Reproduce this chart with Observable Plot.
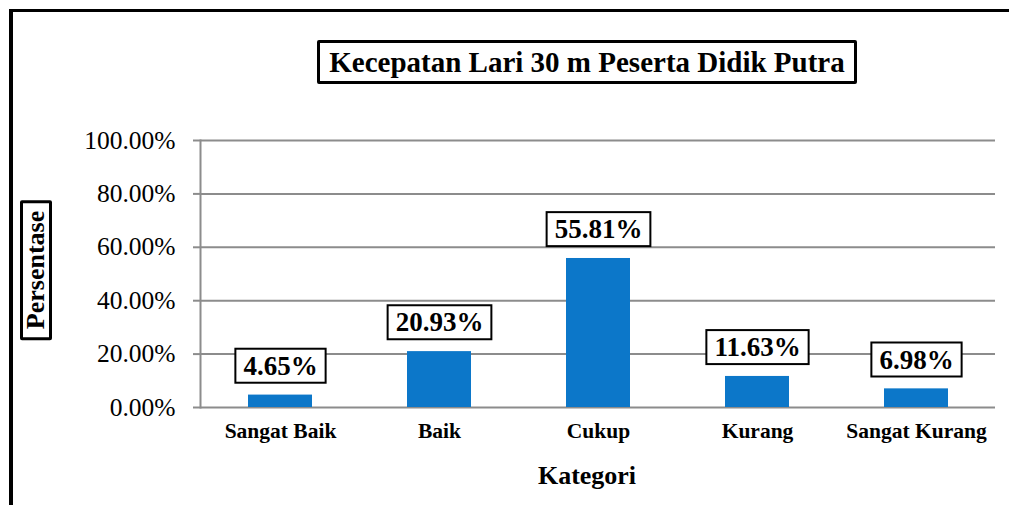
<!DOCTYPE html>
<html>
<head>
<meta charset="utf-8">
<script src="https://cdn.jsdelivr.net/npm/d3@7"></script>
<script src="https://cdn.jsdelivr.net/npm/@observablehq/plot@0.6"></script>
<style>
  html, body { margin: 0; padding: 0; background: #fff; }
  #wrap { position: relative; width: 1009px; height: 505px; overflow: hidden; font-family: "Liberation Serif", "Times New Roman", serif; }
  #border { position: absolute; left: 9px; top: 9px; width: 1100px; height: 600px; border-left: 4px solid #000; border-top: 3px solid #000; box-sizing: border-box; }
  #title { position: absolute; left: 317px; top: 40px; width: 540px; height: 44px; box-sizing: border-box; border: 3px solid #000; border-radius: 2px; font-weight: bold; font-size: 29px; text-align: center; line-height: 38px; white-space: nowrap; background: #fff; }
  #ylabel { position: absolute; left: 36px; top: 270px; transform: translate(-50%, -50%) rotate(-90deg); border: 3px solid #000; border-radius: 2px; padding: 0 8px; font-weight: bold; font-size: 26px; line-height: 26px; white-space: nowrap; background: #fff; }
  #xlabel { position: absolute; left: 587px; top: 476px; transform: translate(-50%, -50%); font-weight: bold; font-size: 26px; white-space: nowrap; }
  #chart { position: absolute; left: 0; top: 0; }
</style>
</head>
<body>
<div id="wrap">
  <div id="border"></div>
  <div id="chart"></div>
  <div id="title">Kecepatan Lari 30 m Peserta Didik Putra</div>
  <div id="ylabel">Persentase</div>
  <div id="xlabel">Kategori</div>
</div>
<script>
const categories = ["Sangat Baik", "Baik", "Cukup", "Kurang", "Sangat Kurang"];
const values = [0.0465, 0.2093, 0.5581, 0.1163, 0.0698];
const labels = ["4.65%", "20.93%", "55.81%", "11.63%", "6.98%"];
const yTicks = [0, 0.2, 0.4, 0.6, 0.8, 1.0];

const data = categories.map((c, i) => ({category: c, value: values[i], label: labels[i]}));

const gray = "#8c8c8c";
const chart = Plot.plot({
  width: 1009,
  height: 505,
  marginLeft: 200,
  marginRight: 14,
  marginTop: 140,
  marginBottom: 98,
  style: {fontFamily: "'Liberation Serif', 'Times New Roman', serif", background: "transparent", overflow: "visible"},
  x: {domain: categories, paddingInner: 0.6, paddingOuter: 0.3, label: null},
  y: {domain: [0, 1], label: null},
  marks: [
    Plot.ruleY(yTicks, {stroke: gray, strokeWidth: 2, strokeOpacity: 1}),
    Plot.axisY({ticks: yTicks, tickFormat: d3.format(".2%"), tickSize: 7, tickPadding: 18, stroke: gray, strokeWidth: 2, fontSize: 25.5, fill: "#000", label: null, strokeOpacity: 1}),
    Plot.frame({anchor: "left", stroke: gray, strokeWidth: 2}),
    Plot.axisX({tickSize: 0, tickPadding: 15, fontSize: 21.5, fontWeight: "bold", fill: "#000", label: null}),
    Plot.barY(data, {x: "category", y: "value", fill: "#0c77c9"}),
    Plot.text(data, {x: "category", y: "value", text: "label", dy: -29, lineAnchor: "middle", fontSize: 27, fontWeight: "bold", fill: "#000"})
  ]
});
document.getElementById("chart").appendChild(chart);

// draw boxes behind data labels
const textGroups = chart.querySelectorAll('g[aria-label="text"]');
textGroups.forEach(g => {
  g.querySelectorAll("text").forEach(t => {
    const b = t.getBBox();
    const r = document.createElementNS("http://www.w3.org/2000/svg", "rect");
    const padX = 8, padY = 2;
    r.setAttribute("x", b.x - padX);
    r.setAttribute("y", b.y - padY);
    r.setAttribute("width", b.width + 2 * padX);
    r.setAttribute("height", b.height + 2 * padY);
    r.setAttribute("fill", "#fff");
    r.setAttribute("stroke", "#000");
    r.setAttribute("stroke-width", 2);
    const tr = t.getAttribute("transform");
    if (tr) r.setAttribute("transform", tr);
    g.insertBefore(r, t);
  });
});
</script>
</body>
</html>
